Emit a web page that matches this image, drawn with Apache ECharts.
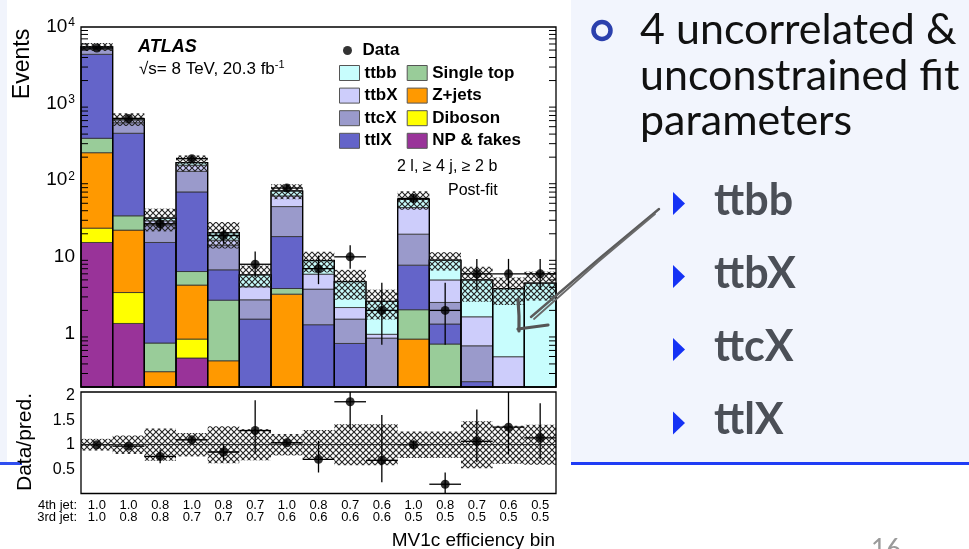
<!DOCTYPE html>
<html>
<head>
<meta charset="utf-8">
<script src="https://cdn.jsdelivr.net/npm/echarts@6/dist/echarts.min.js"></script>
<style>
  html, body { margin: 0; padding: 0; background: #ffffff; }
  #chart { width: 969px; height: 549px; }
</style>
</head>
<body>
<div id="chart"></div>
<script>
// MV1c efficiency bins (4th / 3rd jet working points)
const jet4 = ['1.0','1.0','0.8','1.0','0.8','0.7','1.0','0.8','0.7','0.6','1.0','0.8','0.7','0.6','0.5'];
const jet3 = ['1.0','0.8','0.8','0.7','0.7','0.7','0.6','0.6','0.6','0.6','0.5','0.5','0.5','0.5','0.5'];

// Post-fit yields per sample (stacked bottom to top)
const npFakes   = [15.4, 1.35, 0.04, 0.478, 0.03, 0.02, 0.03, 0.02, 0.01, 0.005, 0.01, 0.01, 0.005, 0.005, 0.005];
const diboson   = [8.3, 2.07, 0.03, 0.367, 0.03, 0.01, 0.02, 0.01, 0.01, 0.005, 0.01, 0.005, 0.005, 0.005, 0.005];
const zJets     = [205, 18.9, 0.247, 3.435, 0.38, 0.05, 3.21, 0.04, 0.03, 0.01, 0.825, 0.02, 0.01, 0.005, 0.005];
const singleTop = [124, 12, 0.433, 2.15, 2.28, 0.08, 0.6, 0.05, 0.03, 0.02, 1.195, 0.693, 0.02, 0.01, 0.01];
const ttlX      = [4047, 376, 14.65, 63.9, 4.05, 1.38, 14.54, 1.18, 0.66, 0.13, 5.75, 0.6, 0.195, 0.05, 0.03];
const ttcX      = [700, 153, 10.7, 60.7, 7.43, 1.21, 26.9, 2.49, 0.8, 0.7, 12.0, 1.21, 0.455, 0.1, 0.06];
const ttbX      = [270, 48, 3.4, 26, 2.3, 1.32, 17.1, 2.16, 0.64, 0.105, 24.2, 2.46, 0.96, 0.322, 0.08];
const ttbb      = [150, 19, 2.5, 13, 4.2, 1.76, 10.1, 3.0, 2.58, 1.65, 12.5, 4.06, 3.35, 3.36, 4.35];

// Relative uncertainty of the total prediction
const predUnc = [0.12, 0.19, 0.33, 0.24, 0.38, 0.32, 0.22, 0.30, 0.42, 0.42, 0.27, 0.27, 0.48, 0.39, 0.41];

// Observed events with their error intervals
const dataObs = [5300, 640, 27, 191, 19, 8, 79, 7, 10, 2, 58, 2, 6, 6, 6];
const dataLo  = [5227, 615, 21.9, 177, 14.8, 5.4, 70.3, 4.4, 7.0, 0.71, 50.6, 0.71, 3.7, 3.7, 3.7];
const dataHi  = [5373, 665, 32.5, 205, 24.2, 11.7, 88, 10.4, 14.2, 4.6, 66, 4.6, 9.4, 9.4, 9.4];

// Data / prediction
const ratio   = [1.0, 0.97, 0.76, 1.10, 0.85, 1.29, 1.04, 0.70, 1.88, 0.68, 1.0, 0.19, 1.07, 1.36, 1.14];
const ratioLo = [0.98, 0.93, 0.62, 1.05, 0.69, 0.82, 0.99, 0.43, 1.32, 0.23, 0.92, 0.0, 0.64, 0.80, 0.70];
const ratioHi = [1.02, 1.01, 0.90, 1.15, 1.02, 1.91, 1.09, 1.08, 2.6, 1.61, 1.08, 0.43, 1.72, 2.5, 1.85];

const YMIN = 0.2, YMAX = 1e4, RMIN = 0, RMAX = 2.08;
const FONT = '"Liberation Sans", Arial, Helvetica, sans-serif';
const SLIDE_FONT = 'Lato, "Open Sans", sans-serif';

const categories = jet4.map((a, i) => a + '/' + jet3[i]);

const samples = [
  { name: 'NP & fakes', values: npFakes,   color: '#993399' },
  { name: 'Diboson',    values: diboson,   color: '#ffff00' },
  { name: 'Z+jets',     values: zJets,     color: '#ff9900' },
  { name: 'Single top', values: singleTop, color: '#99cc99' },
  { name: 'ttlX',       values: ttlX,      color: '#6464c9' },
  { name: 'ttcX',       values: ttcX,      color: '#9a9acb' },
  { name: 'ttbX',       values: ttbX,      color: '#cdcdfb' },
  { name: 'ttbb',       values: ttbb,      color: '#c8fdfd' }
];

// cumulative [bin, low, high] rows for the stack
let base = categories.map(() => 0);
samples.forEach(s => {
  s.rows = s.values.map((v, i) => [i, base[i], base[i] + v]);
  base = s.rows.map(r => r[2]);
});
const totalPred = base;

// cross-hatch fill
function hatchCanvas() {
  const n = 6;
  const c = document.createElement('canvas');
  c.width = n; c.height = n;
  const g = c.getContext('2d');
  g.strokeStyle = '#262626';
  g.lineWidth = 1.15;
  g.beginPath();
  g.moveTo(-1, -1); g.lineTo(n + 1, n + 1);
  g.moveTo(n + 1, -1); g.lineTo(-1, n + 1);
  g.stroke();
  return c;
}
const hatch = { image: hatchCanvas(), repeat: 'repeat' };

function clampV(v, lo, hi) { return Math.min(Math.max(v, lo), hi); }
function binWidth(api, v) { return api.coord([1, v])[0] - api.coord([0, v])[0]; }

function stackRender(color) {
  return function (params, api) {
    const i = api.value(0);
    const lo = clampV(api.value(1), YMIN, YMAX);
    const hi = clampV(api.value(2), YMIN, YMAX);
    if (hi <= lo) return null;
    const w = binWidth(api, 1);
    const p0 = api.coord([i, lo]), p1 = api.coord([i, hi]);
    return {
      type: 'rect',
      shape: { x: p0[0] - w / 2, y: p1[1], width: w, height: p0[1] - p1[1] },
      style: { fill: color, stroke: '#2d2d2d', lineWidth: 0.8 }
    };
  };
}

const series = [];
samples.forEach(s => {
  series.push({
    name: s.name, type: 'custom', xAxisIndex: 0, yAxisIndex: 0,
    itemStyle: { color: s.color },
    encode: { x: 0, y: [1, 2] },
    data: s.rows,
    renderItem: stackRender(s.color),
    z: 2
  });
});

// outline of the full stack in each bin
series.push({
  name: 'stackOutline', type: 'custom', xAxisIndex: 0, yAxisIndex: 0,
  data: totalPred.map((t, i) => [i, t]),
  encode: { x: 0, y: 1 },
  renderItem: function (params, api) {
    const i = api.value(0);
    const t = clampV(api.value(1), YMIN, YMAX);
    const w = binWidth(api, 1);
    const p0 = api.coord([i, YMIN]), p1 = api.coord([i, t]);
    return {
      type: 'rect',
      shape: { x: p0[0] - w / 2, y: p1[1], width: w, height: p0[1] - p1[1] },
      style: { fill: 'none', stroke: '#000', lineWidth: 1.3 }
    };
  },
  z: 3
});

// uncertainty band on the total prediction
series.push({
  name: 'predBand', type: 'custom', xAxisIndex: 0, yAxisIndex: 0,
  data: totalPred.map((t, i) => [i, t * (1 - predUnc[i]), t * (1 + predUnc[i])]),
  encode: { x: 0, y: [1, 2] },
  renderItem: function (params, api) {
    const i = api.value(0);
    const lo = clampV(api.value(1), YMIN, YMAX);
    const hi = clampV(api.value(2), YMIN, YMAX);
    const w = binWidth(api, 1);
    const p0 = api.coord([i, lo]), p1 = api.coord([i, hi]);
    return {
      type: 'rect',
      shape: { x: p0[0] - w / 2, y: p1[1], width: w, height: p0[1] - p1[1] },
      style: { fill: hatch, stroke: null }
    };
  },
  z: 4
});

// data error bars (upper panel)
series.push({
  name: 'dataErr', type: 'custom', xAxisIndex: 0, yAxisIndex: 0,
  data: dataObs.map((v, i) => [i, v, dataLo[i], dataHi[i]]),
  encode: { x: 0, y: [1, 2, 3] },
  renderItem: function (params, api) {
    const i = api.value(0);
    const w = binWidth(api, 1);
    const pc = api.coord([i, clampV(api.value(1), YMIN, YMAX)]);
    const pl = api.coord([i, clampV(api.value(2), YMIN, YMAX)]);
    const ph = api.coord([i, clampV(api.value(3), YMIN, YMAX)]);
    return {
      type: 'group',
      children: [
        { type: 'line', shape: { x1: pc[0], y1: pl[1], x2: pc[0], y2: ph[1] }, style: { stroke: '#000', lineWidth: 1.3 } },
        { type: 'line', shape: { x1: pc[0] - w / 2, y1: pc[1], x2: pc[0] + w / 2, y2: pc[1] }, style: { stroke: '#000', lineWidth: 1.3 } }
      ]
    };
  },
  z: 5
});

series.push({
  name: 'Data', type: 'scatter', xAxisIndex: 0, yAxisIndex: 0,
  symbol: 'circle', symbolSize: 9,
  itemStyle: { color: '#000' },
  data: dataObs.map((v, i) => [i, v]),
  z: 6
});

// minor log ticks on both sides of the upper frame
const minorVals = [];
for (let d = -1; d <= 3; d++) {
  for (let m = 2; m <= 9; m++) {
    const v = m * Math.pow(10, d);
    if (v > YMIN + 1e-9 && v < YMAX) minorVals.push(v);
  }
}
series.push({
  name: 'minorTicks', type: 'custom', xAxisIndex: 0, yAxisIndex: 0,
  data: minorVals.map(v => [0, v]),
  encode: { x: 0, y: 1 },
  renderItem: function (params, api) {
    const cs = params.coordSys;
    const y = api.coord([0, api.value(1)])[1];
    return {
      type: 'group',
      children: [
        { type: 'line', shape: { x1: cs.x, y1: y, x2: cs.x + 7, y2: y }, style: { stroke: '#000', lineWidth: 1 } },
        { type: 'line', shape: { x1: cs.x + cs.width - 7, y1: y, x2: cs.x + cs.width, y2: y }, style: { stroke: '#000', lineWidth: 1 } }
      ]
    };
  },
  z: 7
});

// ratio panel: uncertainty band
series.push({
  name: 'ratioBand', type: 'custom', xAxisIndex: 2, yAxisIndex: 2,
  data: predUnc.map((e, i) => [i, 1 - e, 1 + e]),
  encode: { x: 0, y: [1, 2] },
  renderItem: function (params, api) {
    const i = api.value(0);
    const w = binWidth(api, 1);
    const p0 = api.coord([i, clampV(api.value(1), RMIN, RMAX)]);
    const p1 = api.coord([i, clampV(api.value(2), RMIN, RMAX)]);
    return {
      type: 'rect',
      shape: { x: p0[0] - w / 2, y: p1[1], width: w, height: p0[1] - p1[1] },
      style: { fill: hatch, stroke: null }
    };
  },
  z: 2
});

series.push({
  name: 'ratioErr', type: 'custom', xAxisIndex: 2, yAxisIndex: 2,
  data: ratio.map((v, i) => [i, v, ratioLo[i], ratioHi[i]]),
  encode: { x: 0, y: [1, 2, 3] },
  renderItem: function (params, api) {
    const i = api.value(0);
    const w = binWidth(api, 1);
    const pc = api.coord([i, api.value(1)]);
    const pl = api.coord([i, clampV(api.value(2), RMIN, RMAX)]);
    const ph = api.coord([i, clampV(api.value(3), RMIN, RMAX)]);
    return {
      type: 'group',
      children: [
        { type: 'line', shape: { x1: pc[0], y1: pl[1], x2: pc[0], y2: ph[1] }, style: { stroke: '#000', lineWidth: 1.3 } },
        { type: 'line', shape: { x1: pc[0] - w / 2, y1: pc[1], x2: pc[0] + w / 2, y2: pc[1] }, style: { stroke: '#000', lineWidth: 1.3 } }
      ]
    };
  },
  z: 4
});

series.push({
  name: 'ratioPoints', type: 'scatter', xAxisIndex: 2, yAxisIndex: 2,
  symbol: 'circle', symbolSize: 9,
  itemStyle: { color: '#000' },
  data: ratio.map((v, i) => [i, v]),
  markLine: {
    silent: true, symbol: 'none', label: { show: false },
    lineStyle: { color: '#222', width: 0.9, type: 'solid' },
    data: [{ yAxis: 1 }]
  },
  z: 5
});

function logLabel(v) {
  const e = Math.round(Math.log10(v));
  if (Math.abs(Math.log10(v) - e) > 1e-6) return '';
  if (e === 0) return '{b|1}';
  if (e === 1) return '{b|10}';
  return '{b|10}{s|' + e + '}';
}

const tickStyle = { color: '#000', width: 1 };
const slideText = (txt, x, y, bold, color) => ({
  type: 'text', x: x, y: y, z: 10,
  style: { text: txt, fontFamily: SLIDE_FONT, fontSize: 43, fontWeight: bold ? 'bold' : 'normal', fill: color, verticalAlign: 'middle' }
});

const option = {
  animation: false,
  backgroundColor: '#ffffff',
  grid: [
    { left: 81, top: 27, width: 475, height: 360, show: true, borderColor: '#000', borderWidth: 1.3, backgroundColor: 'transparent', z: 8 },
    { left: 81, top: 392, width: 475, height: 101.5, show: true, borderColor: '#000', borderWidth: 1.3, backgroundColor: 'transparent', z: 8 }
  ],
  xAxis: [
    { gridIndex: 0, type: 'category', data: categories, position: 'bottom',
      axisLine: { show: false }, axisLabel: { show: false }, splitLine: { show: false },
      axisTick: { inside: true, alignWithLabel: true, interval: 0, length: 9, lineStyle: tickStyle } },
    { gridIndex: 0, type: 'category', data: categories, position: 'top',
      axisLine: { show: false }, axisLabel: { show: false }, splitLine: { show: false },
      axisTick: { inside: true, alignWithLabel: true, interval: 0, length: 9, lineStyle: tickStyle } },
    { gridIndex: 1, type: 'category', data: categories, position: 'bottom',
      axisLine: { show: false }, splitLine: { show: false },
      axisTick: { inside: true, alignWithLabel: true, interval: 0, length: 5, lineStyle: tickStyle },
      axisLabel: { interval: 0, margin: 6, fontFamily: FONT, fontSize: 13, lineHeight: 12, color: '#000',
        formatter: (v, i) => jet4[i] + '\n' + jet3[i] } },
    { gridIndex: 1, type: 'category', data: categories, position: 'top',
      axisLine: { show: false }, axisLabel: { show: false }, splitLine: { show: false },
      axisTick: { inside: true, alignWithLabel: true, interval: 0, length: 5, lineStyle: tickStyle } }
  ],
  yAxis: [
    { gridIndex: 0, type: 'log', logBase: 10, min: YMIN, max: YMAX, position: 'left',
      axisLine: { show: false }, splitLine: { show: false },
      axisTick: { inside: true, length: 13, lineStyle: tickStyle },
      axisLabel: { margin: 6, color: '#000', formatter: logLabel,
        rich: { b: { fontFamily: FONT, fontSize: 19, color: '#000', lineHeight: 20 },
                s: { fontFamily: FONT, fontSize: 12, color: '#000', verticalAlign: 'top', padding: [0, 0, 0, 1] } } } },
    { gridIndex: 0, type: 'log', logBase: 10, min: YMIN, max: YMAX, position: 'right',
      axisLine: { show: false }, splitLine: { show: false }, axisLabel: { show: false },
      axisTick: { inside: true, length: 13, lineStyle: tickStyle } },
    { gridIndex: 1, type: 'value', min: RMIN, max: RMAX, interval: 0.5, position: 'left',
      axisLine: { show: false }, splitLine: { show: false },
      axisTick: { inside: true, length: 11, lineStyle: tickStyle },
      axisLabel: { margin: 6, fontFamily: FONT, fontSize: 16, color: '#000',
        formatter: v => ([0.5, 1, 1.5, 2].indexOf(v) >= 0 ? String(v) : '') } },
    { gridIndex: 1, type: 'value', min: RMIN, max: RMAX, interval: 0.5, position: 'right',
      axisLine: { show: false }, splitLine: { show: false }, axisLabel: { show: false },
      axisTick: { inside: true, length: 11, lineStyle: tickStyle } }
  ],
  legend: [
    { data: [{ name: 'Data', icon: 'circle' }], orient: 'vertical', left: 343, top: 42,
      itemWidth: 20, itemHeight: 9, padding: 0, selectedMode: false,
      textStyle: { fontFamily: FONT, fontSize: 17, fontWeight: 'bold', color: '#000' } },
    { data: ['ttbb', 'ttbX', 'ttcX', 'ttlX'].map(n => ({ name: n, icon: 'rect' })),
      orient: 'vertical', left: 339, top: 64.5, itemWidth: 20, itemHeight: 15, itemGap: 5.6, padding: 0,
      selectedMode: false, itemStyle: { borderColor: '#555', borderWidth: 1 },
      textStyle: { fontFamily: FONT, fontSize: 17, fontWeight: 'bold', color: '#000' } },
    { data: ['Single top', 'Z+jets', 'Diboson', 'NP & fakes'].map(n => ({ name: n, icon: 'rect' })),
      orient: 'vertical', left: 406.7, top: 64.5, itemWidth: 20, itemHeight: 15, itemGap: 5.6, padding: 0,
      selectedMode: false, itemStyle: { borderColor: '#555', borderWidth: 1 },
      textStyle: { fontFamily: FONT, fontSize: 17, fontWeight: 'bold', color: '#000' } }
  ],
  graphic: [
    // slide background pieces
    { type: 'rect', shape: { x: 0, y: 0, width: 7, height: 462 }, style: { fill: '#f1f4fc' }, z: -10 },
    { type: 'rect', shape: { x: 0, y: 462, width: 22, height: 3 }, style: { fill: '#2f4ef0' }, z: -10 },
    { type: 'rect', shape: { x: 571, y: 0, width: 398, height: 462 }, style: { fill: '#f2f5fd' }, z: -10 },
    { type: 'rect', shape: { x: 571, y: 462, width: 398, height: 3 }, style: { fill: '#1f3cf5' }, z: -10 },

    // chart annotations
    { type: 'text', x: 138, y: 47, style: { text: 'ATLAS', fontFamily: FONT, fontSize: 18, fontWeight: 'bold', fontStyle: 'italic', fill: '#000', verticalAlign: 'middle' }, z: 10 },
    { type: 'text', x: 139, y: 69, style: { text: '{a|√s= 8 TeV, 20.3 fb}{s|-1}', verticalAlign: 'middle',
        rich: { a: { fontFamily: FONT, fontSize: 17, fill: '#000', lineHeight: 20 }, s: { fontFamily: FONT, fontSize: 11, fill: '#000', verticalAlign: 'top' } } }, z: 10 },
    { type: 'text', x: 397, y: 167, style: { text: '2 l, ≥ 4 j, ≥ 2 b', fontFamily: FONT, fontSize: 16, fill: '#000', verticalAlign: 'middle' }, z: 10 },
    { type: 'text', x: 448, y: 191, style: { text: 'Post-fit', fontFamily: FONT, fontSize: 16, fill: '#000', verticalAlign: 'middle' }, z: 10 },
    { type: 'text', x: 23, y: 64, rotation: Math.PI / 2, style: { text: 'Events', fontFamily: FONT, fontSize: 23, fill: '#000', align: 'center', verticalAlign: 'middle' }, z: 10 },
    { type: 'text', x: 25, y: 442, rotation: Math.PI / 2, style: { text: 'Data/pred.', fontFamily: FONT, fontSize: 21, fill: '#000', align: 'center', verticalAlign: 'middle' }, z: 10 },
    { type: 'text', x: 77, y: 505.5, style: { text: '4th jet:', fontFamily: FONT, fontSize: 13, fill: '#000', align: 'right', verticalAlign: 'middle' }, z: 10 },
    { type: 'text', x: 77, y: 517.5, style: { text: '3rd jet:', fontFamily: FONT, fontSize: 13, fill: '#000', align: 'right', verticalAlign: 'middle' }, z: 10 },
    { type: 'text', x: 555, y: 541, style: { text: 'MV1c efficiency bin', fontFamily: FONT, fontSize: 19, fill: '#000', align: 'right', verticalAlign: 'middle' }, z: 10 },

    // hand-drawn pointer
    { type: 'polyline', shape: { points: [[659, 209], [600, 258], [531, 317]] }, style: { stroke: '#5c5c5c', lineWidth: 2.4, lineCap: 'round', fill: null }, z: 12 },
    { type: 'polyline', shape: { points: [[655, 214], [598, 262], [534, 319]] }, style: { stroke: '#6a6a6a', lineWidth: 1.8, lineCap: 'round', fill: null }, z: 12 },
    { type: 'polyline', shape: { points: [[518, 299], [519, 316], [519, 331]] }, style: { stroke: '#555', lineWidth: 3.2, lineCap: 'round', fill: null }, z: 12 },
    { type: 'polyline', shape: { points: [[518, 329], [533, 327], [548, 325]] }, style: { stroke: '#555', lineWidth: 3.2, lineCap: 'round', fill: null }, z: 12 },

    // slide text
    { type: 'circle', shape: { cx: 602, cy: 30.5, r: 8.5 }, style: { fill: 'none', stroke: '#2b40ad', lineWidth: 4.5 }, z: 10 },
    slideText('4 uncorrelated &', 640, 30, false, '#111'),
    slideText('unconstrained fit', 640, 76, false, '#111'),
    slideText('parameters', 640, 121, false, '#111'),

    { type: 'polygon', shape: { points: [[673, 192], [685, 203.5], [673, 215]] }, style: { fill: '#1532f5' }, z: 10 },
    { type: 'polygon', shape: { points: [[673, 265], [685, 276.5], [673, 288]] }, style: { fill: '#1532f5' }, z: 10 },
    { type: 'polygon', shape: { points: [[673, 338], [685, 349.5], [673, 361]] }, style: { fill: '#1532f5' }, z: 10 },
    { type: 'polygon', shape: { points: [[673, 411.5], [685, 423], [673, 434.5]] }, style: { fill: '#1532f5' }, z: 10 },
    slideText('ttbb', 714, 201, true, '#4b4f57'),
    slideText('ttbX', 714, 274.5, true, '#4b4f57'),
    slideText('ttcX', 714, 347, true, '#4b4f57'),
    slideText('ttlX', 714, 420, true, '#4b4f57'),
    { type: 'text', x: 871, y: 537, style: { text: '16', fontFamily: SLIDE_FONT, fontSize: 26, fill: '#9a9a9a', verticalAlign: 'top' }, z: 10 }
  ],
  series: series
};

const chart = echarts.init(document.getElementById('chart'), null, { renderer: 'canvas' });
chart.setOption(option);
</script>
</body>
</html>
